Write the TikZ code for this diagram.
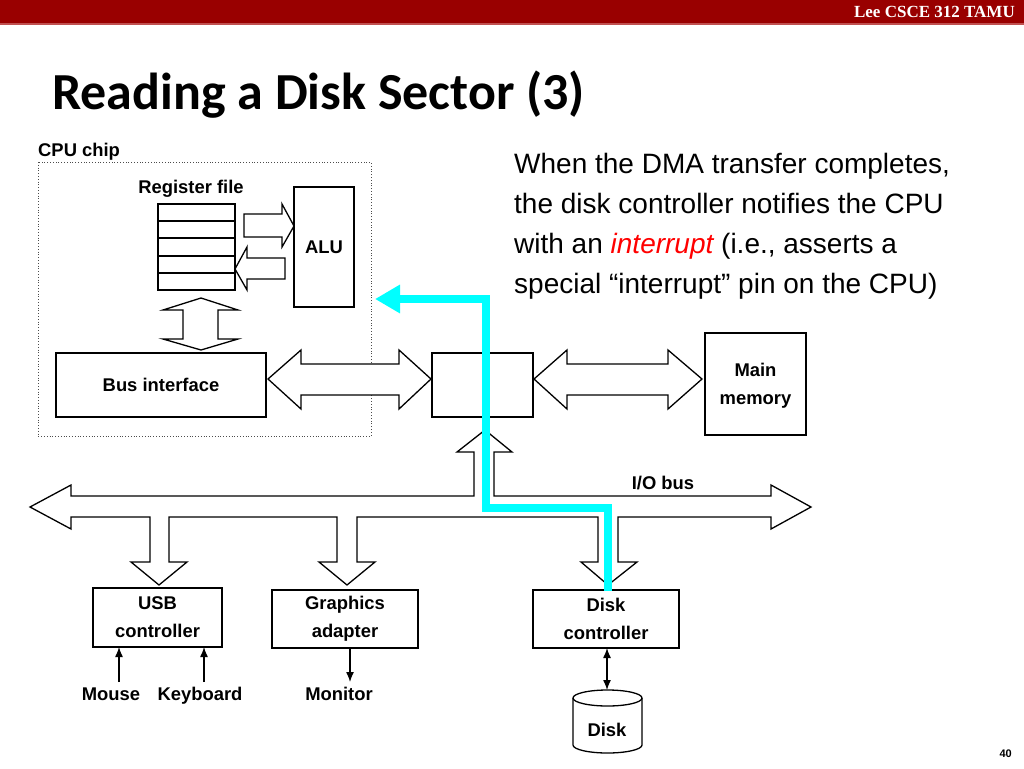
\documentclass[tikz,border=0pt]{standalone}
\usepackage{fontspec}
\setmainfont{Liberation Sans}
\newfontfamily\titlefont{Carlito}
\newfontfamily\bannerfont{Liberation Serif}
\usetikzlibrary{arrows.meta}
\definecolor{bannerred}{HTML}{990000}
\definecolor{bannerline}{HTML}{C05050}
\definecolor{cyanline}{HTML}{00FFFF}
\definecolor{ired}{HTML}{FF0000}
\tikzset{
  box/.style={draw, line width=1.3pt, inner sep=0pt, outer sep=0pt, fill=white},
  lbl/.style={font=\fontsize{18.4}{28}\selectfont\bfseries, align=center, inner sep=0pt},
  body/.style={font=\fontsize{28}{40}\selectfont, anchor=base west, inner sep=0pt},
  blk/.style={draw, fill=white, line width=1.3pt, line join=miter},
  tarrow/.style={line width=1.3pt, -{Latex[length=10pt,width=8pt]}},
  cyanpath/.style={draw=cyanline, line width=8pt, line join=miter, -{Triangle[length=25pt,width=27pt]}},
}
\begin{document}
\begin{tikzpicture}[x=1pt,y=-1pt]
\useasboundingbox (0,0) rectangle (1024,768);
% banner
\fill[bannerred] (0,0) rectangle (1024,23);
\fill[bannerline] (0,23) rectangle (1024,25);
\node[anchor=base east, text=white, inner sep=0pt, font=\bannerfont\bfseries\fontsize{17}{19}\selectfont] (banner) at (1015,18) {Lee CSCE 312 TAMU};
% title
\node[anchor=base west, inner sep=0pt, font=\titlefont\bfseries\fontsize{52}{60}\selectfont] (title) at (52,109) {Reading a Disk Sector (3)};
% body text
\node[body] (t1) at (514,173) {When the DMA transfer completes,};
\node[body] (t2) at (514,213) {the disk controller notifies the CPU};
\node[body] (t3) at (514,253) {with an \textcolor{ired}{\itshape interrupt} (i.e., asserts a};
\node[body] (t4) at (514,293) {special “interrupt” pin on the CPU)};
% CPU chip
\draw[dotted, line width=0.8pt, draw=black!70] (38,162) rectangle (371,436);
\node[lbl, anchor=base west] (cpu) at (38,156) {CPU chip};
\node[lbl] (reglbl) at (191,189) {Register file};
\node[box, minimum width=77pt, minimum height=86pt] (reg) at (196.5,247) {};
\foreach \yy in {221,238,256,273} \draw[line width=1.3pt] (158,\yy) -- (235,\yy);
\node[box, minimum width=60pt, minimum height=120pt, lbl] (alu) at (324,247) {ALU};
\node[box, minimum width=210pt, minimum height=64pt, lbl] (busif) at (161,385) {Bus interface};
\node[box, minimum width=101pt, minimum height=64pt] (bridge) at (482.5,385) {};
\node[box, minimum width=101pt, minimum height=102pt] (mem) at (755.5,384) {};
\node[lbl] (memlbl) at (755.5,386) {Main\\memory};
% register <-> ALU arrows
\draw[blk] (244,214) -- (282,214) -- (282,204) -- (294,226) -- (282,247) -- (282,237) -- (244,237) -- cycle;
\draw[blk] (285,258) -- (247,258) -- (247,247) -- (235,269) -- (247,290) -- (247,279) -- (285,279) -- cycle;
% register <-> bus interface
\draw[blk] (201,298) -- (238,310) -- (218,310) -- (218,339) -- (238,339) -- (201,350) -- (163,339) -- (183,339) -- (183,310) -- (163,310) -- cycle;
% bus interface <-> bridge
\draw[blk] (268,379) -- (301,350) -- (301,364) -- (399,364) -- (399,350) -- (431,379) -- (399,409) -- (399,395) -- (301,395) -- (301,409) -- cycle;
% bridge <-> memory
\draw[blk] (534,379) -- (567,350) -- (567,364) -- (668,364) -- (668,350) -- (702,379) -- (668,409) -- (668,395) -- (567,395) -- (567,409) -- cycle;
% I/O bus with branches
\draw[blk] (30,507) -- (71,485) -- (71,496) -- (474,496) -- (474,452) -- (457,452) -- (485,430) -- (512,452) -- (494,452) -- (494,496)
  -- (771,496) -- (771,485) -- (811,507) -- (771,529) -- (771,517)
  -- (618,517) -- (618,562) -- (637,562) -- (608,585) -- (581,562) -- (598,562) -- (598,517)
  -- (357,517) -- (357,562) -- (375,562) -- (347,585) -- (319,562) -- (337,562) -- (337,517)
  -- (169,517) -- (169,562) -- (187,562) -- (159,585) -- (131,562) -- (150,562) -- (150,517)
  -- (71,517) -- (71,529) -- cycle;
\node[lbl] (iobus) at (663,483) {I/O bus};
% controllers
\node[box, minimum width=129pt, minimum height=59pt, lbl] (usb) at (157.5,617.5) {USB\\controller};
\node[box, minimum width=146pt, minimum height=58pt, lbl] (gfx) at (345,619) {Graphics\\adapter};
\node[box, minimum width=146pt, minimum height=58pt, lbl] (dctl) at (606,619) {Disk\\controller};
% devices
\node[lbl, anchor=base] (mouse) at (111,700) {Mouse};
\node[lbl, anchor=base] (kbd) at (200,700) {Keyboard};
\node[lbl, anchor=base] (mon) at (339,700) {Monitor};
\coordinate (mouseA) at (119,682);
\coordinate (kbdA) at (204,682);
\coordinate (monA) at (350,682);
\draw[tarrow] (mouseA) -- (mouseA |- usb.south);
\draw[tarrow] (kbdA) -- (kbdA |- usb.south);
\draw[tarrow] (monA |- gfx.south) -- (monA);
% disk
\draw[line width=1.3pt, fill=white] (573,698) -- (573,745) arc[start angle=180, end angle=360, x radius=34.5pt, y radius=8pt] -- (642,698);
\draw[line width=1.3pt, fill=white] (607.5,698) ellipse [x radius=34.5pt, y radius=8pt];
\coordinate (disktop) at (607,690);
\node[lbl] (disk) at (607,730) {Disk};
\draw[line width=1.3pt, {Latex[length=10pt,width=8pt]}-{Latex[length=10pt,width=8pt]}] (dctl.south -| disktop) -- (disktop);
% interrupt path
\coordinate (cstart) at (608,591);
\coordinate (ctip) at (375,299);
\draw[cyanpath] (cstart) |- (486,507.5) |- (ctip);
% page number
\node[anchor=base east, inner sep=0pt, font=\bfseries\fontsize{11}{13}\selectfont] (pnum) at (1012,757) {40};
\end{tikzpicture}
\end{document}
